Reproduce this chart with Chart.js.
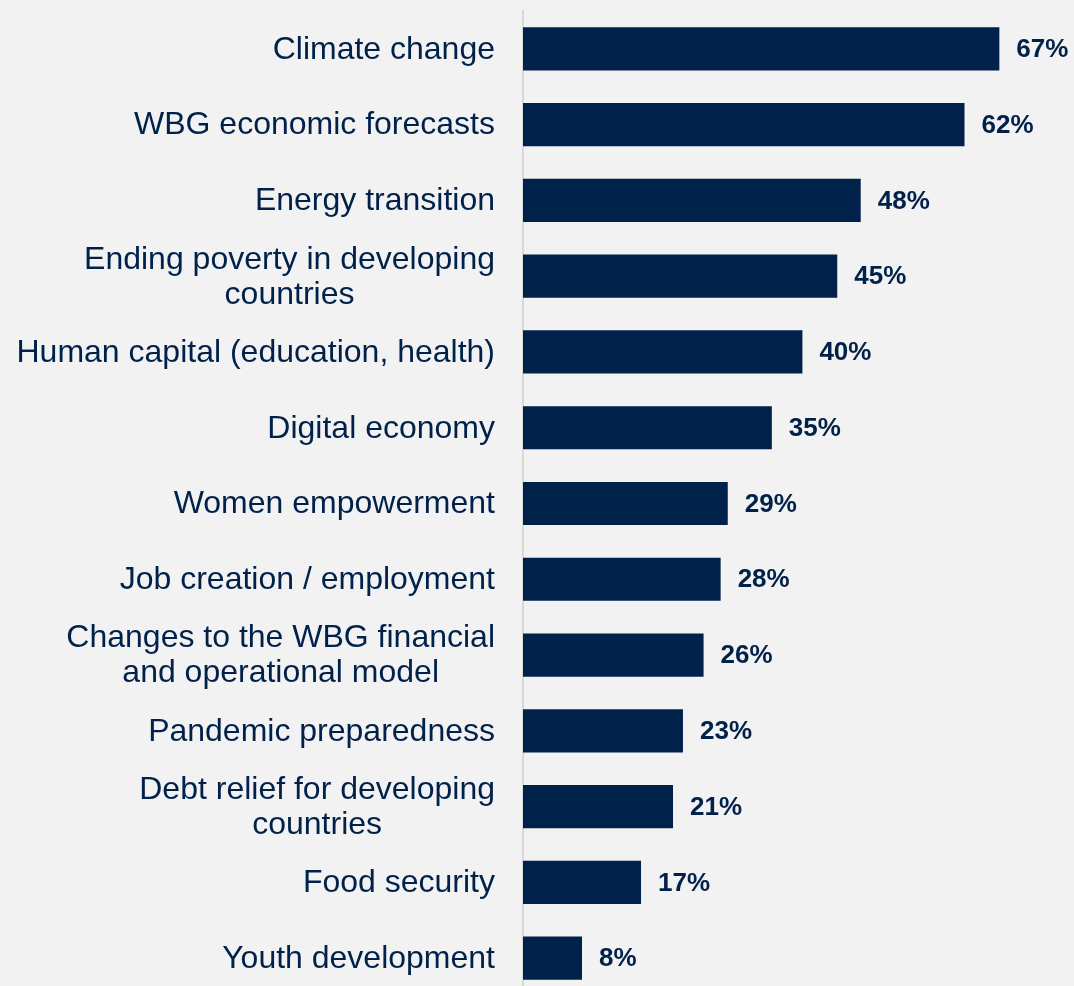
<!DOCTYPE html>
<html>
<head>
<meta charset="utf-8">
<script src="https://cdn.jsdelivr.net/npm/chart.js@4/dist/chart.umd.min.js"></script>
<style>
  html, body { margin: 0; padding: 0; background: #f2f2f2; overflow: hidden; }
  #wrap { width: 1074px; height: 996px; position: relative; }
</style>
</head>
<body>
<div id="wrap"><canvas id="chart"></canvas></div>
<script>
const categories = [
    ['Climate change'],
    ['WBG economic forecasts'],
    ['Energy transition'],
    ['Ending poverty in developing', 'countries'],
    ['Human capital (education, health)'],
    ['Digital economy'],
    ['Women empowerment'],
    ['Job creation / employment'],
    ['Changes to the WBG financial', 'and operational model'],
    ['Pandemic preparedness'],
    ['Debt relief for developing', 'countries'],
    ['Food security'],
    ['Youth development']
];
// bar lengths
const shares = [67, 62.1, 47.5, 44.2, 39.3, 35, 28.8, 27.8, 25.4, 22.5, 21.1, 16.6, 8.3];
// values as printed next to the bars
const shareLabels = ['67%', '62%', '48%', '45%', '40%', '35%', '29%', '28%', '26%', '23%', '21%', '17%', '8%'];

const navy = '#00214a';
const labelFont = '32px "Liberation Sans", Arial, sans-serif';
const valueFont = 'bold 26px "Liberation Sans", Arial, sans-serif';

// draws category labels: block right-aligned to the axis, lines centred within the block
const categoryLabels = {
    id: 'categoryLabels',
    afterDraw(chart) {
        const ctx = chart.ctx;
        const y = chart.scales.y;
        ctx.save();
        ctx.font = labelFont;
        ctx.fillStyle = navy;
        ctx.textAlign = 'center';
        ctx.textBaseline = 'middle';
        const lineHeight = 35;
        categories.forEach((lines, i) => {
            const cy = y.getPixelForValue(i) + 1;
            const maxW = Math.max(...lines.map(l => ctx.measureText(l).width));
            const cx = y.right - 28 - maxW / 2;
            const top = cy - (lines.length - 1) * lineHeight / 2;
            lines.forEach((l, k) => ctx.fillText(l, cx, top + k * lineHeight));
        });
        ctx.restore();
    }
};

// value labels after each bar
const valueLabels = {
    id: 'valueLabels',
    afterDatasetsDraw(chart) {
        const ctx = chart.ctx;
        const meta = chart.getDatasetMeta(0);
        ctx.save();
        ctx.font = valueFont;
        ctx.fillStyle = navy;
        ctx.textAlign = 'left';
        ctx.textBaseline = 'middle';
        meta.data.forEach((bar, i) => {
            ctx.fillText(shareLabels[i], bar.x + 17, bar.y + 1);
        });
        ctx.restore();
    }
};

new Chart(document.getElementById('chart'), {
    type: 'bar',
    data: {
        labels: categories,
        datasets: [{
            data: shares,
            backgroundColor: navy,
            borderWidth: 0,
            barPercentage: 0.57,
            categoryPercentage: 1
        }]
    },
    options: {
        indexAxis: 'y',
        responsive: true,
        maintainAspectRatio: false,
        animation: false,
        layout: { padding: { top: 11, bottom: 0, left: 0, right: 0 } },
        plugins: {
            legend: { display: false },
            tooltip: { enabled: false }
        },
        scales: {
            x: {
                display: false,
                min: 0,
                max: 77.5
            },
            y: {
                grid: { display: false },
                border: { display: true, color: '#d9d9d9', width: 2 },
                ticks: { display: false },
                afterFit(scale) {
                    scale.width = 523;
                }
            }
        }
    },
    plugins: [categoryLabels, valueLabels]
});
</script>
</body>
</html>
